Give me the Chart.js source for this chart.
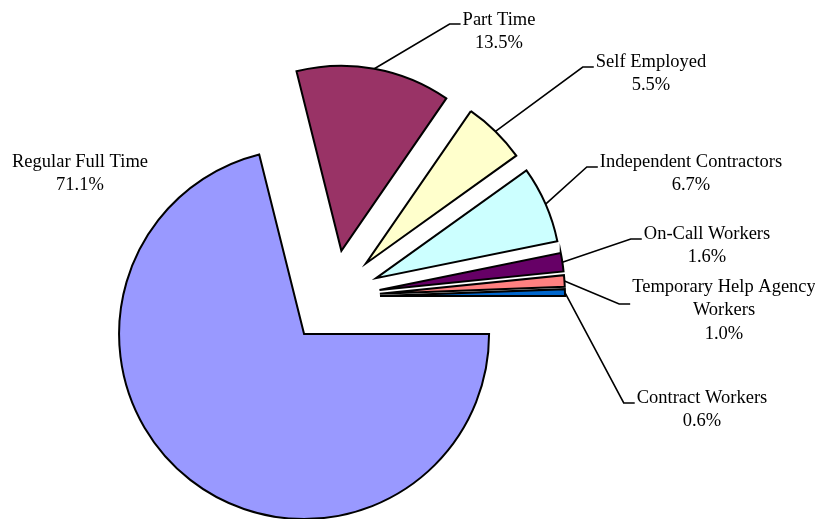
<!DOCTYPE html>
<html>
<head>
<meta charset="utf-8">
<title>Employment arrangements</title>
<script src="https://cdn.jsdelivr.net/npm/chart.js@4/dist/chart.umd.min.js"></script>
<style>
  html, body { margin: 0; padding: 0; background: #fff; }
  #wrap { position: relative; width: 815px; height: 519px; }
</style>
</head>
<body>
<div id="wrap"><canvas id="pie"></canvas></div>
<script>
// Share of workers by arrangement (%)
const categories = ['Regular Full Time', 'Part Time', 'Self Employed', 'Independent Contractors',
                    'On-Call Workers', 'Temporary Help Agency Workers', 'Contract Workers'];
const shares     = [71.1, 13.5, 5.5, 6.7, 1.6, 1.0, 0.6];
const colors     = ['#9999FF', '#993366', '#FFFFCC', '#CCFFFF', '#660066', '#FF8080', '#0066CC'];

// how each category name is wrapped in its label
const labelText  = [['Regular Full Time'], ['Part Time'], ['Self Employed'], ['Independent Contractors'],
                    ['On-Call Workers'], ['Temporary Help Agency', 'Workers'], ['Contract Workers']];

// label placement: centre x, middle of first line, height of the leader's elbow (null = no leader)
const labelSpots = [
  { x: 80,  y: 162, lead: null },
  { x: 499, y: 20,  lead: 24 },
  { x: 651, y: 62,  lead: 67 },
  { x: 691, y: 162, lead: 167 },
  { x: 707, y: 234, lead: 239 },
  { x: 724, y: 287, lead: 304 },
  { x: 702, y: 398, lead: 403 }
];

const EXPLODE = 47;      // every slice pulled out from the centre
const LINE_H  = 23.5;
const FONT    = '18.5px "Liberation Serif", "Times New Roman", serif';

// draw each arc shifted out along its bisector
const explodePlugin = {
  id: 'explode',
  beforeDatasetDraw(chart, args) {
    const ctx = chart.ctx;
    args.meta.data.forEach(arc => {
      const mid = (arc.startAngle + arc.endAngle) / 2;
      ctx.save();
      ctx.translate(Math.cos(mid) * EXPLODE, Math.sin(mid) * EXPLODE);
      arc.draw(ctx);
      ctx.restore();
    });
    return false;
  }
};

// category + percent labels with elbow leader lines
const labelPlugin = {
  id: 'pieLabels',
  afterDatasetsDraw(chart) {
    const ctx = chart.ctx;
    const arcs = chart.getDatasetMeta(0).data;
    ctx.save();
    ctx.font = FONT;
    ctx.fillStyle = '#000';
    ctx.textAlign = 'center';
    ctx.textBaseline = 'middle';
    arcs.forEach((arc, i) => {
      const spot = labelSpots[i];
      const lines = labelText[i].concat([shares[i].toFixed(1) + '%']);
      const w = Math.max(...lines.map(s => ctx.measureText(s).width));
      lines.forEach((s, k) => ctx.fillText(s, spot.x, spot.y + k * LINE_H));

      if (spot.lead === null) return;
      const mid = (arc.startAngle + arc.endAngle) / 2;
      const r = arc.outerRadius + EXPLODE;
      const left = spot.x - w / 2;
      ctx.beginPath();
      ctx.moveTo(arc.x + Math.cos(mid) * r, arc.y + Math.sin(mid) * r);
      ctx.lineTo(left - 13, spot.lead);
      ctx.lineTo(left - 2, spot.lead);
      ctx.lineWidth = 1.6;
      ctx.strokeStyle = '#000';
      ctx.stroke();
    });
    ctx.restore();
  }
};

new Chart(document.getElementById('pie'), {
  type: 'pie',
  data: {
    labels: categories,
    datasets: [{
      data: shares,
      backgroundColor: colors,
      borderColor: '#000',
      borderWidth: 2,
      borderJoinStyle: 'miter'
    }]
  },
  options: {
    responsive: true,
    maintainAspectRatio: false,
    animation: false,
    events: [],
    rotation: 90,
    radius: 185,
    layout: { padding: { left: 0, right: 149, top: 75, bottom: 0 } },
    plugins: {
      legend: { display: false },
      tooltip: { enabled: false }
    }
  },
  plugins: [explodePlugin, labelPlugin]
});
</script>
</body>
</html>
